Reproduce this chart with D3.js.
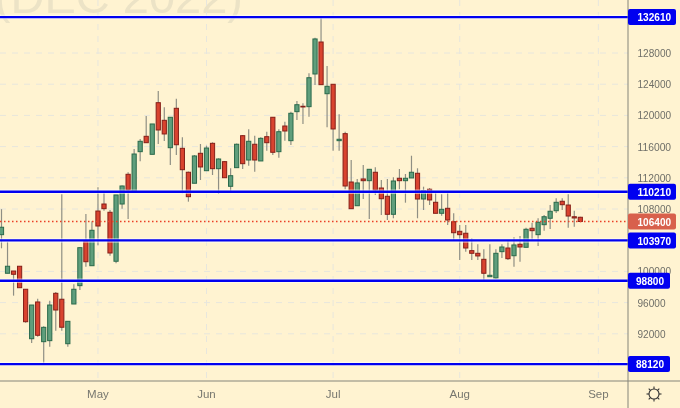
<!DOCTYPE html>
<html><head><meta charset="utf-8">
<script src="https://cdn.jsdelivr.net/npm/d3@7"></script>
<style>html,body{margin:0;padding:0;background:#fff3d1;overflow:hidden}svg{display:block;filter:blur(0.3px)}text{font-family:"Liberation Sans",Arial,sans-serif}</style>
</head><body><div id="c"></div>
<script>
const open=[104710,99760,100050,100660,97710,91370,96080,90990,91120,97190,96430,90730,95820,98170,103900,100730,107740,108640,107580,101300,108640,112450,110180,115350,117320,115010,121630,119370,115860,120910,115780,112710,111300,115140,112910,116420,113170,114070,110910,113300,117400,114280,116300,114160,117270,119760,115350,118640,116760,120480,121170,121120,125310,129410,122780,123990,116760,117660,111460,108420,111850,111630,112710,110690,109630,107320,111940,111630,111980,112580,109280,110530,108860,107450,108090,106370,105140,104890,102660,102320,101550,99320,99160,102530,103000,102010,103480,103090,105530,104710,105990,106810,107780,108990,108510,107010,106940];
const high=[107980,103810,100050,100660,97710,95690,96500,92980,96240,97360,109890,93600,98350,103100,107360,106420,110780,110220,107870,109800,111000,112710,115690,116980,119920,118900,123130,121040,119800,122140,117190,112800,114920,116330,116120,116550,114500,114150,113220,116400,117480,118220,117400,117190,117910,119800,118220,119190,120480,121850,121550,125400,129960,132600,126330,124000,120140,117910,114280,111850,113640,113130,113350,111720,111850,112070,113130,112490,114830,113220,110860,110690,110140,109890,110090,107450,105950,105950,104250,103480,102840,103480,102840,103480,103900,104370,104540,105600,106250,106810,107230,108510,109370,109370,109890,107780,107000];
const low=[102960,99760,96890,97900,93430,90820,91630,88130,90350,92400,92400,90350,95820,97620,100600,100730,103350,107780,102010,101040,108040,106720,110180,114120,116460,115010,116330,116720,113640,114920,110010,108940,111300,111720,112910,112360,109920,112010,110220,113300,113130,113550,112780,114160,115480,114920,114580,116760,116210,119410,118900,119830,123900,123940,118480,115480,115480,110530,108040,108420,109280,106720,109800,107230,106590,106810,110530,108810,111980,106810,107870,108510,107450,107140,105950,103940,101460,102530,101460,101460,98810,99320,99060,101720,101460,100600,101240,103090,104030,103260,105220,105440,107490,107870,105600,105730,106300];
const close=[105660,100660,99630,97910,93550,95690,91810,92830,95690,95050,92840,93600,97710,103040,101240,105270,105820,108040,102360,109800,110950,110440,115050,116680,116500,118900,118130,117620,119760,116240,113040,109580,114800,113390,115820,113170,114410,112010,112270,116300,113810,116680,114280,117060,116500,115270,117910,118000,120270,121370,121080,124830,129800,123940,123730,118260,116940,110950,108040,111340,111630,113090,110440,109320,107320,111590,111630,111940,112710,109280,110350,109160,107450,107960,106590,104960,104710,103000,102320,101980,99760,99500,102320,103130,101630,103390,103130,105400,105220,106300,107010,107710,108860,108550,107100,106850,106400];
const levels=[132610,110210,103970,98800,88120];
const priceTicks=[128000,124000,120000,116000,112000,108000,104000,100000,96000,92000];
const priceLabels=[128000,124000,120000,116000,112000,108000,100000,96000,92000];
const monthLabels=["May","Jun","Jul","Aug","Sep"];
const monthBars=[16,34,55,76,99];
const lastPrice=106400;

const W=680,H=408,plotR=628,plotB=381;
const x=d3.scaleLinear().domain([0,96]).range([1.5,580.3]);
const y=d3.scaleLinear().domain([128000,92000]).range([53,333.8]);
const svg=d3.select("#c").append("svg").attr("width",W).attr("height",H);
svg.append("rect").attr("width",W).attr("height",H).attr("fill","#fff3d1");

const plot=svg.append("g");
plot.append("text").attr("x",243).attr("y",13).attr("text-anchor","end")
  .attr("font-size",47).attr("fill","#ece3c6").text("s (DEC 2022)");

const grid="#e7e6dd";
plot.selectAll(".gh").data(priceTicks).join("line").attr("x1",0).attr("x2",plotR)
  .attr("y1",d=>y(d)).attr("y2",d=>y(d)).attr("stroke",grid).attr("stroke-dasharray","6 6");
plot.selectAll(".gv").data(monthBars).join("line").attr("x1",d=>x(d)).attr("x2",d=>x(d))
  .attr("y1",0).attr("y2",plotB).attr("stroke",grid).attr("stroke-dasharray","6 6");

const idx=d3.range(open.length);
const up=i=>close[i]>=open[i];
plot.selectAll(".w").data(idx).join("line")
  .attr("x1",i=>x(i)).attr("x2",i=>x(i)).attr("y1",i=>y(high[i])).attr("y2",i=>y(low[i]))
  .attr("stroke","#8f8f84").attr("stroke-width",1.2);
plot.selectAll(".b").data(idx).join("rect")
  .attr("x",i=>x(i)-2.1).attr("width",4.2)
  .attr("y",i=>y(Math.max(open[i],close[i])))
  .attr("height",i=>Math.max(0.6,Math.abs(y(open[i])-y(close[i]))))
  .attr("fill",i=>up(i)?"#5f9e7c":"#d9432f")
  .attr("stroke",i=>up(i)?"#2a6a4b":"#861f18").attr("stroke-width",1);

plot.append("line").attr("x1",0).attr("x2",plotR).attr("y1",y(lastPrice)).attr("y2",y(lastPrice))
  .attr("stroke","#ea3f25").attr("stroke-width",1.3).attr("stroke-dasharray","1.5 2.5");
plot.selectAll(".lvlh").data(levels).join("line").attr("x1",0).attr("x2",plotR)
  .attr("y1",d=>y(d)).attr("y2",d=>y(d)).attr("stroke","#ffffff").attr("stroke-opacity",.55).attr("stroke-width",4.5);
plot.selectAll(".lvl").data(levels).join("line").attr("x1",0).attr("x2",plotR)
  .attr("y1",d=>y(d)).attr("y2",d=>y(d)).attr("stroke","#0000f0").attr("stroke-width",2.3);

// axes
svg.append("line").attr("x1",0).attr("x2",W).attr("y1",plotB).attr("y2",plotB).attr("stroke","#85857a");
svg.append("line").attr("x1",plotR).attr("x2",plotR).attr("y1",0).attr("y2",H).attr("stroke","#85857a");
svg.selectAll(".pt").data(priceLabels).join("text").attr("x",637.5).attr("y",d=>y(d)+4)
  .attr("font-size",11.5).attr("textLength",d=>String(d).length*5.6).attr("lengthAdjust","spacingAndGlyphs")
  .attr("fill","#6f6f68").text(d=>d);
svg.selectAll(".mt").data(monthBars).join("text").attr("x",d=>x(d)).attr("y",398)
  .attr("text-anchor","middle").attr("font-size",11.5).attr("fill","#77776f").text((d,i)=>monthLabels[i]);

// price labels
const tag=(v,w,fill)=>{
  const yy=y(v), s=String(v);
  svg.append("rect").attr("x",plotR).attr("y",yy-8).attr("width",w).attr("height",16).attr("rx",2).attr("fill",fill);
  svg.append("text").attr("x",plotR+(s.length>5?9.5:8)).attr("y",yy+4.2)
    .attr("font-size",11.5).attr("font-weight","bold").attr("textLength",s.length*5.6).attr("lengthAdjust","spacingAndGlyphs")
    .attr("fill","#fff").text(v);
};
levels.forEach(v=>tag(v,v>=100000?48:42,"#0000f0"));
tag(lastPrice,48,"#d8604c");

// settings icon
const sun=svg.append("g").attr("transform","translate(654,394)");
sun.append("circle").attr("r",5).attr("fill","none").attr("stroke","#333").attr("stroke-width",1.1);
sun.selectAll("line").data(d3.range(8)).join("line")
  .attr("x1",d=>5*Math.cos(d*Math.PI/4)).attr("y1",d=>5*Math.sin(d*Math.PI/4))
  .attr("x2",d=>7.5*Math.cos(d*Math.PI/4)).attr("y2",d=>7.5*Math.sin(d*Math.PI/4))
  .attr("stroke","#333").attr("stroke-width",1.1);
</script></body></html>
